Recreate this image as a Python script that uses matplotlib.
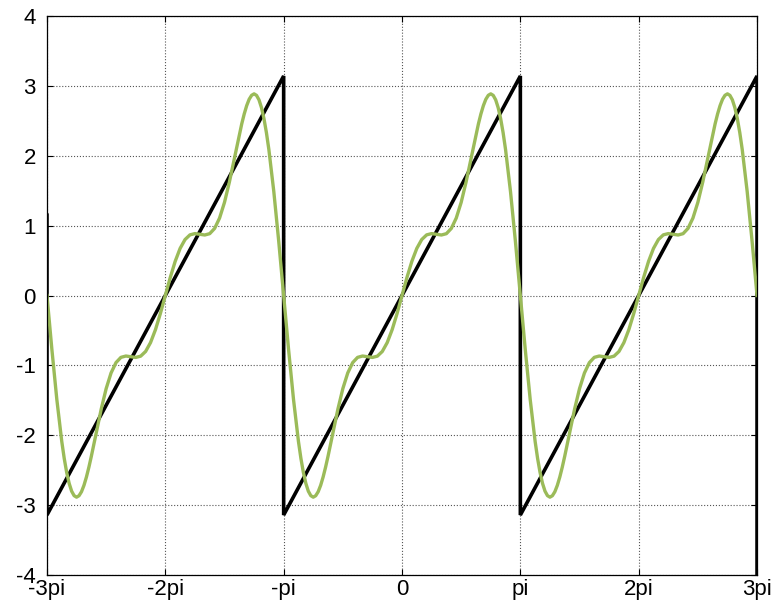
import numpy as np
import matplotlib
matplotlib.use("Agg")
import matplotlib.pyplot as plt

plt.rcParams['font.family'] = ['Liberation Sans', 'DejaVu Sans']
plt.rcParams['axes.unicode_minus'] = False

# ========== data ==========
# green curve over one period; phase in 48ths of pi, from -pi to pi
green_phase = [-48, -46, -44, -42, -41, -40, -39, -38, -37, -36, -35, -34, -33,
               -32, -31, -30, -28, -26, -24, -22, -20, -18, -16, -14, -12, -10,
               -8, -6, -4, -2,
               0, 2, 4, 6, 8, 10, 12, 14, 16, 18, 20, 22, 24, 26, 28, 30,
               31, 32, 33, 34, 35, 36, 37, 38, 39, 40, 41, 42, 44, 46, 48]
green_vals = [0, -0.775, -1.489, -2.089, -2.332, -2.533, -2.689, -2.800, -2.864,
              -2.886, -2.865, -2.808, -2.717, -2.598, -2.457, -2.300, -1.960,
              -1.626, -1.333, -1.108, -0.960, -0.885, -0.866, -0.876, -0.886,
              -0.868, -0.801, -0.674, -0.489, -0.257,
              0, 0.257, 0.489, 0.674, 0.801, 0.868, 0.886, 0.876, 0.866, 0.885,
              0.960, 1.108, 1.333, 1.626, 1.960, 2.300,
              2.457, 2.598, 2.717, 2.808, 2.865, 2.886, 2.864, 2.800, 2.689,
              2.533, 2.332, 2.089, 1.489, 0.775, 0]
period_centers = [-2, 0, 2]          # in units of pi

# black sawtooth corners (x in units of pi)
saw_x = [-3, -3, -1, -1, 1, 1, 3, 3]
saw_y = [1.15, -3.1416, 3.1416, -3.1416, 3.1416, -3.1416, 3.1416, -4.5]

tick_pos = [-3, -2, -1, 0, 1, 2, 3]
tick_labels = ['-3pi', '-2pi', '-pi', '0', 'pi', '2pi', '3pi']
ytick_pos = [-4, -3, -2, -1, 0, 1, 2, 3, 4]

# ========== build x for the green curve ==========
phase = np.array(green_phase) / 48.0
gx = np.concatenate([(c + phase) * np.pi for c in period_centers])
gy = np.concatenate([green_vals for _ in period_centers])

fig = plt.figure(figsize=(7.79, 6.11), dpi=100)
ax = fig.add_axes([0.0603, 0.0589, 0.9115, 0.9149])

ax.plot(np.array(saw_x) * np.pi, saw_y, color='black', lw=2.6,
        solid_joinstyle='miter')
ax.plot(gx, gy, color='#9bbb59', lw=2.4)

ax.set_xlim(-3 * np.pi, 3 * np.pi)
ax.set_ylim(-4, 4)
ax.set_xticks(np.array(tick_pos) * np.pi)
ax.set_xticklabels(tick_labels)
ax.set_yticks(ytick_pos)

ax.tick_params(direction='in', top=True, right=True, length=4, width=0.8,
               labelsize=16, colors='black')
ax.tick_params(axis='x', pad=3)
ax.tick_params(axis='y', pad=8)
ax.grid(True, linestyle=':', color='#555555', lw=0.8)
for s in ax.spines.values():
    s.set_linewidth(0.9)

fig.savefig('out.png', dpi=100)
